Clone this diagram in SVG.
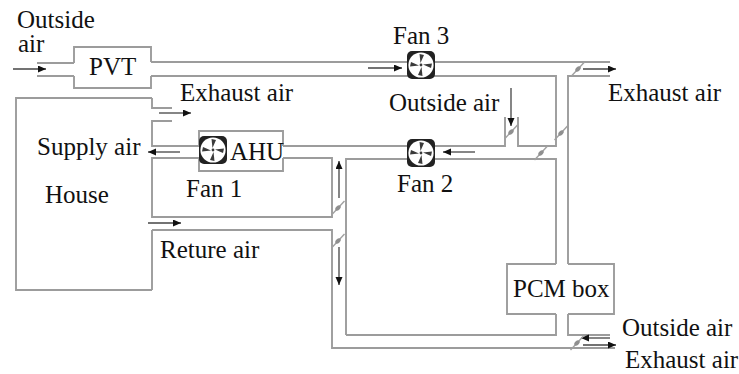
<svg xmlns="http://www.w3.org/2000/svg" width="739" height="374" viewBox="0 0 739 374">
<style>
.d{fill:none;stroke:#9c9c9c;stroke-width:1.9}
.a{fill:none;stroke:#444;stroke-width:1.3;marker-end:url(#ah)}
.dm{fill:none;stroke:#a0a0a0;stroke-width:1.4}
.dme{fill:#8f8f8f;stroke:none}
text{font-family:"Liberation Serif","Times New Roman",serif;font-size:25px;fill:#111}
.fb{fill:#222}
.fc{fill:#fff}
.bl{fill:#3a3a3a}
</style>
<defs>
<marker id="ah" markerUnits="userSpaceOnUse" markerWidth="9" markerHeight="9" refX="8" refY="3.5" orient="auto"><path d="M0 0L8 3.5L0 7Z" fill="#111"/></marker>
<g id="fan">
<rect class="fb" x="-14" y="-14" width="28" height="28" rx="5"/>
<circle class="fc" cx="0" cy="0" r="12.6"/>
<circle class="bl" cx="0" cy="0" r="1.4"/>
<path class="bl" d="M-0.5 -2L-1.5 -11L3 -10Z"/>
<path class="bl" d="M2 -0.5L11 -1.5L10 3Z"/>
<path class="bl" d="M0.5 2L1.5 11L-3 10Z"/>
<path class="bl" d="M-2 0.5L-11 1.5L-10 -3Z"/>
</g>
<g id="dp"><path class="dm" d="M-6.5 7L6.5 -7"/><ellipse class="dme" rx="3.2" ry="2" transform="rotate(-45)"/></g>
</defs>
<g id="connectors">
<path class="d" d="M37 63H74M37 76H74M151 62H610M151 76H556V146H518V117M505 117V146H283M568 264V76H610M199 146H152V121H172M172 108H152V98M199 158H152V217H332V158H283M346 335V159H556V264M556 314V335H346M568 314V335H610M152 230V290M152 230H332V348H615"/>
<path class="a" d="M13 69H46"/>
<path class="a" d="M368 68H402"/>
<path class="a" d="M583 69H616"/>
<path class="a" d="M159 113H191"/>
<path class="a" d="M180 152H148"/>
<path class="a" d="M475 152H443"/>
<path class="a" d="M511 88V126"/>
<path class="a" d="M148 223H181"/>
<path class="a" d="M339 198V161"/>
<path class="a" d="M339 247V285"/>
<path class="a" d="M610 338H581"/>
<path class="a" d="M583 345H616"/>
<use href="#dp" x="578" y="69"/>
<use href="#dp" x="511" y="132"/>
<use href="#dp" x="561" y="133"/>
<use href="#dp" x="541" y="153"/>
<use href="#dp" x="338" y="208"/>
<use href="#dp" x="338" y="241"/>
<use href="#dp" x="577" y="343"/>
</g>
<g id="house"><path class="d" d="M152 98H16V290H152"/><text x="45" y="203">House</text></g>
<g id="pvt"><path class="d" d="M74 63V47H151V62M151 76V88H74V76"/><text x="89" y="75">PVT</text></g>
<g id="ahu"><path class="d" d="M199 146V131H283V146M283 158V171H199V158"/><text x="230" y="160">AHU</text></g>
<g id="fan1"><use href="#fan" x="213" y="150"/><text x="186" y="197">Fan 1</text></g>
<g id="fan2"><use href="#fan" x="421" y="153"/><text x="397" y="192">Fan 2</text></g>
<g id="fan3"><use href="#fan" x="421" y="65"/><text x="393" y="44">Fan 3</text></g>
<g id="pcm"><path class="d" d="M556 264H507V314H556M568 314H614V264H568"/><text x="513" y="297">PCM box</text></g>
<g id="labels">
<text x="17" y="28">Outside</text>
<text x="18" y="52">air</text>
<text x="180" y="101">Exhaust air</text>
<text x="37" y="155">Supply air</text>
<text x="160" y="258">Reture air</text>
<text x="389" y="111">Outside air</text>
<text x="608" y="101">Exhaust air</text>
<text x="622" y="336">Outside air</text>
<text x="625" y="368">Exhaust air</text>
</g>
</svg>
